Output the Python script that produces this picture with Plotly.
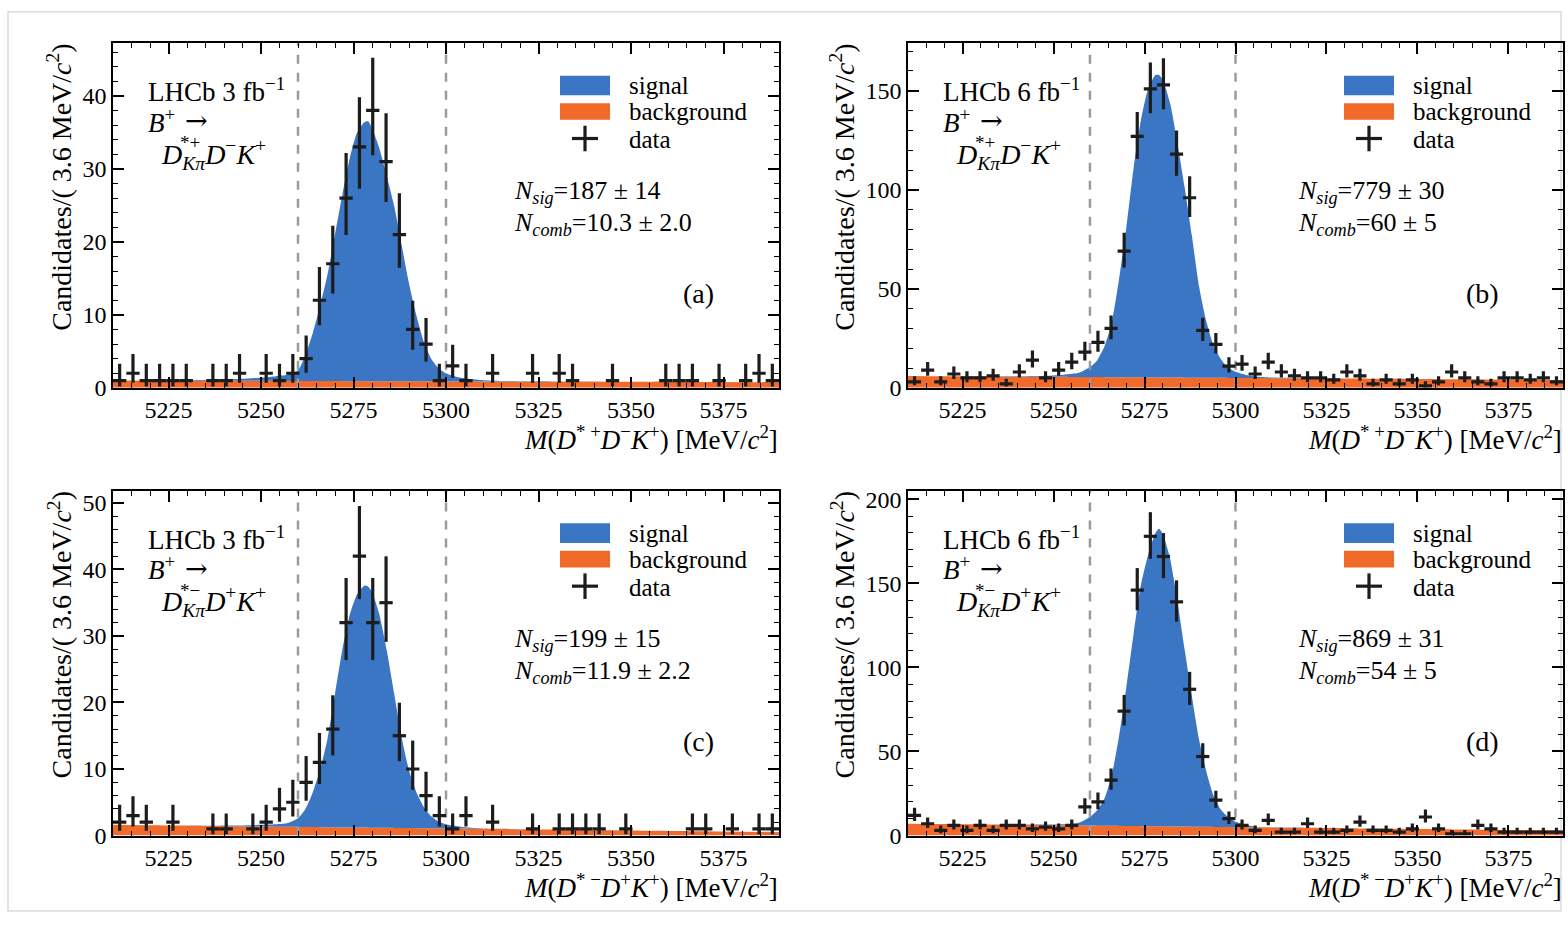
import math
import plotly.graph_objects as go

W, H = 1568, 930
FONT = "Liberation Serif"

# ---------------- data ----------------
mass_lo, mass_hi, bin_w = 5210.0, 5390.0, 3.6
n_bins = 50
bin_centers = [round(mass_lo + bin_w * (i + 0.5), 2) for i in range(n_bins)]
signal_window = [5260, 5300]

counts_a = [1, 2, 1, 1, 1, 1, 0, 1, 1, 2, 0, 2, 1, 2, 4, 12, 17, 26, 33, 38,
            31, 21, 8, 6, 1, 3, 1, 0, 2, 0, 0, 2, 0, 2, 1, 0, 0, 1, 0, 0,
            0, 1, 1, 1, 0, 1, 0, 1, 2, 1]
counts_b = [3, 9, 3, 7, 5, 5, 6, 2, 8, 14, 5, 9, 13, 18, 23, 30, 69, 127, 151, 153,
            118, 96, 29, 22, 11, 12, 7, 13, 8, 6, 5, 5, 4, 8, 6, 2, 4, 2, 4, 1,
            3, 8, 5, 3, 2, 5, 5, 4, 5, 3]
counts_c = [2, 3, 2, 0, 2, 0, 0, 1, 1, 0, 1, 2, 4, 5, 8, 11, 16, 32, 42, 32,
            35, 15, 10, 6, 3, 1, 3, 0, 2, 0, 0, 1, 0, 1, 1, 1, 1, 0, 1, 0,
            0, 0, 0, 1, 1, 0, 1, 0, 1, 1]
counts_d = [12, 7, 3, 6, 3, 6, 3, 6, 6, 4, 5, 4, 6, 17, 20, 33, 74, 146, 178, 166,
            139, 87, 47, 21, 10, 6, 3, 9, 2, 2, 7, 2, 2, 3, 8, 3, 3, 2, 4, 11,
            4, 1, 1, 6, 4, 2, 2, 2, 2, 2]

curve_mass = [5210, 5220, 5230, 5240, 5245, 5250, 5254, 5257, 5260, 5262, 5264, 5266, 5268,
              5270, 5272, 5274, 5276, 5278, 5279, 5280, 5282, 5284, 5286, 5288, 5290, 5292,
              5294, 5296, 5298, 5300, 5303, 5306, 5310, 5315, 5320, 5330, 5350, 5370, 5390]

total_a = [1.0, 1.0, 1.05, 1.15, 1.25, 1.4, 1.6, 1.8, 2.4, 4.5, 7.5, 11.3, 15.6,
           21.0, 26.5, 31.5, 35.0, 36.4, 36.5, 35.6, 32.8, 29.0, 24.9, 19.6, 14.3, 9.9,
           6.3, 4.0, 2.7, 2.0, 1.5, 1.25, 1.05, 0.95, 0.9, 0.88, 0.85, 0.8, 0.78]
bg_a = [1.0, 0.99, 0.98, 0.97, 0.96, 0.96, 0.95, 0.95, 0.94, 0.94, 0.94, 0.93, 0.93,
        0.93, 0.92, 0.92, 0.92, 0.91, 0.91, 0.91, 0.91, 0.90, 0.90, 0.90, 0.89, 0.89,
        0.89, 0.88, 0.88, 0.88, 0.87, 0.87, 0.86, 0.86, 0.85, 0.84, 0.82, 0.80, 0.78]

total_b = [6.0, 5.9, 5.8, 5.85, 6.0, 6.3, 6.9, 7.6, 10.5, 14.0, 21.0, 33.0, 55.0,
           81.0, 111.0, 135.0, 151.0, 158.0, 158.0, 155.5, 144.0, 124.0, 101.5, 77.0, 51.0, 33.5,
           21.2, 14.5, 10.3, 8.1, 6.5, 5.6, 5.2, 5.0, 4.9, 4.75, 4.48, 4.24, 4.0]
bg_b = [6.0, 5.89, 5.78, 5.67, 5.61, 5.56, 5.51, 5.48, 5.44, 5.42, 5.4, 5.38, 5.36,
        5.33, 5.31, 5.29, 5.27, 5.24, 5.23, 5.22, 5.2, 5.18, 5.16, 5.13, 5.11, 5.09,
        5.07, 5.04, 5.02, 5.0, 4.97, 4.93, 4.89, 4.83, 4.78, 4.67, 4.44, 4.22, 4.0]

total_c = [1.6, 1.55, 1.5, 1.5, 1.5, 1.6, 1.7, 1.85, 2.6, 4.0, 6.5, 10.0, 14.6,
           21.3, 28.0, 33.2, 36.3, 37.6, 37.4, 36.6, 33.2, 27.8, 21.3, 14.8, 9.8, 6.5,
           4.3, 2.9, 2.1, 1.7, 1.4, 1.2, 1.05, 1.0, 0.96, 0.9, 0.77, 0.64, 0.52]
bg_c = [1.6, 1.53, 1.47, 1.41, 1.38, 1.35, 1.33, 1.31, 1.29, 1.28, 1.27, 1.26, 1.24,
        1.23, 1.22, 1.21, 1.20, 1.19, 1.18, 1.18, 1.16, 1.15, 1.14, 1.13, 1.12, 1.10,
        1.09, 1.08, 1.07, 1.06, 1.04, 1.02, 1.0, 0.97, 0.94, 0.88, 0.76, 0.63, 0.5]

total_d = [7.0, 6.8, 6.6, 6.5, 6.5, 6.5, 6.8, 7.6, 11.0, 15.0, 22.0, 36.0, 59.0,
           88.0, 120.0, 149.0, 167.0, 180.0, 182.5, 179.5, 165.0, 140.0, 111.0, 83.0, 57.0, 38.0,
           23.5, 15.3, 10.9, 8.2, 6.3, 5.1, 4.85, 4.72, 4.6, 4.38, 3.92, 3.46, 3.0]
bg_d = [7.0, 6.78, 6.56, 6.33, 6.22, 6.11, 6.02, 5.96, 5.89, 5.84, 5.8, 5.76, 5.71,
        5.67, 5.62, 5.58, 5.53, 5.49, 5.47, 5.44, 5.4, 5.36, 5.31, 5.27, 5.22, 5.18,
        5.13, 5.09, 5.04, 5.0, 4.93, 4.87, 4.78, 4.67, 4.56, 4.33, 3.89, 3.44, 3.0]

y_max = [47.2, 174.0, 51.8, 205.0]
y_major = [10, 50, 10, 50]
y_minor = [2, 10, 2, 10]

panel_labels = ["(a)", "(b)", "(c)", "(d)"]
lumi_text = ["LHCb 3 fb<sup>−1</sup>", "LHCb 6 fb<sup>−1</sup>", "LHCb 3 fb<sup>−1</sup>", "LHCb 6 fb<sup>−1</sup>"]
dstar_charge = ["*+", "*+", "*−", "*−"]
decay_rest = ["<i>D</i><sup>−</sup><i>K</i><sup>+</sup>", "<i>D</i><sup>−</sup><i>K</i><sup>+</sup>",
              "<i>D</i><sup>+</sup><i>K</i><sup>+</sup>", "<i>D</i><sup>+</sup><i>K</i><sup>+</sup>"]
n_sig = ["187 ± 14", "779 ± 30", "199 ± 15", "869 ± 31"]
n_comb = ["10.3 ± 2.0", "60 ± 5", "11.9 ± 2.2", "54 ± 5"]
x_titles = ["<i>M</i>(<i>D</i><sup>* +</sup><i>D</i><sup>−</sup><i>K</i><sup>+</sup>) [MeV/<i>c</i><sup>2</sup>]",
            "<i>M</i>(<i>D</i><sup>* +</sup><i>D</i><sup>−</sup><i>K</i><sup>+</sup>) [MeV/<i>c</i><sup>2</sup>]",
            "<i>M</i>(<i>D</i><sup>* −</sup><i>D</i><sup>+</sup><i>K</i><sup>+</sup>) [MeV/<i>c</i><sup>2</sup>]",
            "<i>M</i>(<i>D</i><sup>* −</sup><i>D</i><sup>+</sup><i>K</i><sup>+</sup>) [MeV/<i>c</i><sup>2</sup>]"]
y_title = "Candidates/( 3.6 MeV/<i>c</i><sup>2</sup>)"

counts_all = [counts_a, counts_b, counts_c, counts_d]
totals_all = [total_a, total_b, total_c, total_d]
bgs_all = [bg_a, bg_b, bg_c, bg_d]

# ---------------- styling ----------------
BLUE = "#3A76C4"
ORANGE = "#F26A2A"
DARK = "#1c1c1c"
DASH = "#9b9b9b"

# panel pixel boxes: left, top, right, bottom
boxes = [(113, 40, 779, 391), (908, 40, 1563, 391),
         (113, 496, 779, 847), (908, 496, 1563, 847)]
ytitle_x = [60, 843, 60, 843]


def px(x):
    return x / W


def py(y):
    return 1 - y / H


def pois_cdf(k, lam):
    if lam <= 0:
        return 1.0
    term = math.exp(-lam)
    s = term
    for i in range(1, k + 1):
        term *= lam / i
        s += term
    return s


def garwood(n, alpha=0.158655):
    if n == 0:
        lo_v = 0.0
    else:
        a, b = 0.0, float(n)
        for _ in range(80):
            m = 0.5 * (a + b)
            if 1 - pois_cdf(n - 1, m) < alpha:
                a = m
            else:
                b = m
        lo_v = 0.5 * (a + b)
    a, b = float(n), n + 10 * math.sqrt(n + 1) + 10
    for _ in range(80):
        m = 0.5 * (a + b)
        if pois_cdf(n, m) > alpha:
            a = m
        else:
            b = m
    hi_v = 0.5 * (a + b)
    return n - lo_v, hi_v - n


fig = go.Figure()
annotations = []
shapes = []
layout_axes = {}

for k in range(4):
    ax = "" if k == 0 else str(k + 1)
    xref, yref = "x" + ax, "y" + ax
    L, T, R, B = boxes[k]

    fig.add_trace(go.Scatter(x=curve_mass, y=bgs_all[k], mode="lines", line=dict(width=0, shape="spline", smoothing=0.6),
                             fill="tozeroy", fillcolor=ORANGE, xaxis=xref, yaxis=yref, showlegend=False, hoverinfo="skip"))
    fig.add_trace(go.Scatter(x=curve_mass, y=totals_all[k], mode="lines", line=dict(width=0, shape="spline", smoothing=0.6),
                             fill="tonexty", fillcolor=BLUE, xaxis=xref, yaxis=yref, showlegend=False, hoverinfo="skip"))
    for xv in signal_window:
        fig.add_trace(go.Scatter(x=[xv, xv], y=[0, y_max[k]], mode="lines",
                                 line=dict(color=DASH, width=2.5, dash="dash"),
                                 xaxis=xref, yaxis=yref, showlegend=False, hoverinfo="skip"))
    xs, ys, ups, downs = [], [], [], []
    for c, n in zip(bin_centers, counts_all[k]):
        if n > 0:
            d, u = garwood(n)
            xs.append(c)
            ys.append(n)
            ups.append(u)
            downs.append(d)
    fig.add_trace(go.Scatter(x=xs, y=ys, mode="markers", marker=dict(size=2, color=DARK),
                             error_x=dict(type="constant", value=bin_w / 2, thickness=3.2, width=0, color=DARK),
                             error_y=dict(type="data", symmetric=False, array=ups, arrayminus=downs,
                                          thickness=3.2, width=0, color=DARK),
                             xaxis=xref, yaxis=yref, showlegend=False))

    common = dict(showline=True, linecolor="black", linewidth=1.5, mirror="ticks",
                  ticks="inside", ticklen=11, tickwidth=1.5, tickcolor="black",
                  showgrid=False, zeroline=False,
                  tickfont=dict(family=FONT, size=24, color="black"))
    layout_axes["xaxis" + ax] = dict(common, domain=[px(L), px(R)], anchor=yref, range=[mass_lo, mass_hi],
                                     tick0=5200, dtick=25,
                                     minor=dict(ticks="inside", dtick=5, ticklen=5, tickwidth=1.3, tickcolor="black"))
    layout_axes["yaxis" + ax] = dict(common, domain=[py(B), py(T)], anchor=xref, range=[0, y_max[k]],
                                     tick0=0, dtick=y_major[k],
                                     minor=dict(ticks="inside", dtick=y_minor[k], ticklen=5, tickwidth=1.3, tickcolor="black"))

    def ann(text, x, y, xanchor="left", size=26, family=FONT, **kw):
        annotations.append(dict(text=text, x=px(x), y=py(y), xref="paper", yref="paper",
                                xanchor=xanchor, yanchor="middle", showarrow=False,
                                font=dict(family=family, size=size, color="black"), **kw))

    ann(lumi_text[k], L + 33, T + 48, size=27)
    ann("<i>B</i><sup>+</sup>", L + 33, T + 79, size=27)
    ann("→", L + 70, T + 79, size=27, family="DejaVu Serif")
    ann("<i>D</i><sub><i>Kπ</i></sub>" + decay_rest[k], L + 46, T + 113, size=28)
    ann(dstar_charge[k], L + 65, T + 101, size=19)
    ann("<i>N<sub>sig</sub></i>=" + n_sig[k], R - 267, T + 152)
    ann("<i>N<sub>comb</sub></i>=" + n_comb[k], R - 267, T + 184)
    ann(panel_labels[k], R - 81, T + 255, xanchor="center", size=28)
    ann("signal", R - 152, T + 43, size=25)
    ann("background", R - 152, T + 70, size=25)
    ann("data", R - 152, T + 98, size=25)
    ann(x_titles[k], R + 1, B + 51, xanchor="right", size=27)
    annotations.append(dict(text=y_title, x=px(ytitle_x[k]), y=py(T - 1), xref="paper", yref="paper",
                            xanchor="center", yanchor="top", textangle=-90, showarrow=False,
                            font=dict(family=FONT, size=28, color="black")))

    shapes.append(dict(type="rect", xref="paper", yref="paper", x0=px(R - 219), x1=px(R - 169),
                       y0=py(T + 53), y1=py(T + 33), fillcolor=BLUE, line=dict(width=0)))
    shapes.append(dict(type="rect", xref="paper", yref="paper", x0=px(R - 219), x1=px(R - 169),
                       y0=py(T + 78), y1=py(T + 61), fillcolor=ORANGE, line=dict(width=0)))
    shapes.append(dict(type="line", xref="paper", yref="paper", x0=px(R - 207), x1=px(R - 181),
                       y0=py(T + 97), y1=py(T + 97), line=dict(color=DARK, width=3.2)))
    shapes.append(dict(type="line", xref="paper", yref="paper", x0=px(R - 194), x1=px(R - 194),
                       y0=py(T + 84), y1=py(T + 110), line=dict(color=DARK, width=3.2)))

# faint outer frame of the figure image
shapes.append(dict(type="rect", xref="paper", yref="paper", x0=px(8), x1=px(1561), y0=py(924), y1=py(8),
                   line=dict(color="#dcdcdc", width=1.5), layer="below"))

fig.update_layout(width=W, height=H, margin=dict(l=0, r=0, t=0, b=0),
                  paper_bgcolor="white", plot_bgcolor="rgba(0,0,0,0)",
                  annotations=annotations, shapes=shapes, showlegend=False,
                  font=dict(family=FONT), **layout_axes)

fig.write_html("out.html")
